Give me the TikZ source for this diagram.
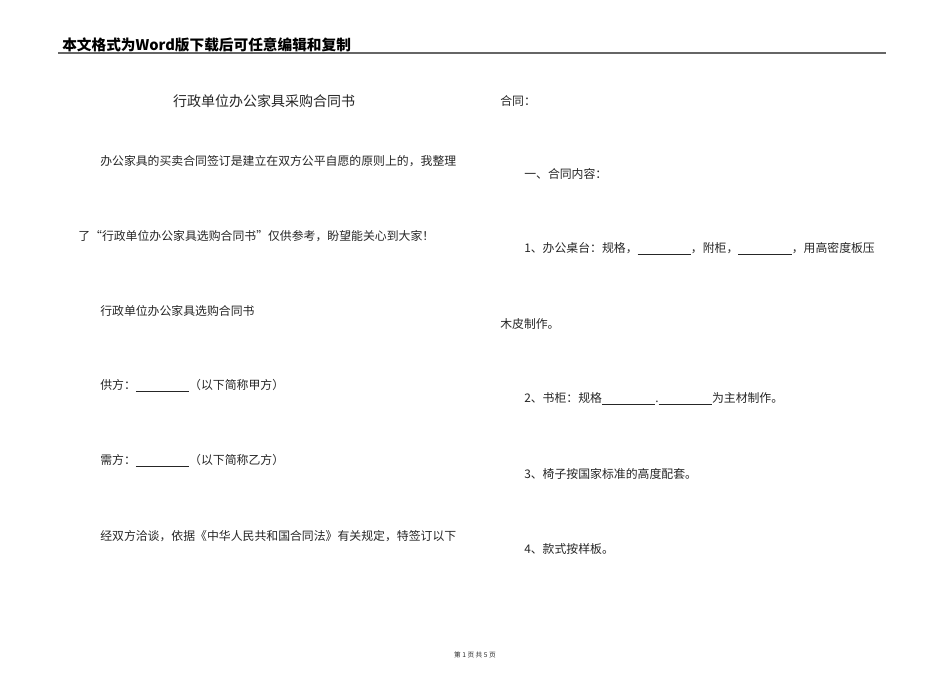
\documentclass[tikz,border=0pt]{standalone}
\usepackage{fontspec}
\newfontfamily\cjk{Noto Sans CJK SC}
\newcommand{\blank}[1]{\underline{\hspace{#1}}}
\begin{document}
\begin{tikzpicture}[x=0.75pt,y=-0.75pt,
  body/.style={anchor=west,inner sep=0,font=\cjk\fontsize{8.9pt}{10pt}\selectfont,text=black!85}]
\useasboundingbox (0,0) rectangle (950,672);
\fill[white] (0,0) rectangle (950,672);
\node[anchor=west,inner sep=0,font=\cjk\bfseries\fontsize{11pt}{12pt}\selectfont] (hdr) at (62,45) {本文格式为Word版下载后可任意编辑和复制};
\coordinate (l1) at (58,53); \coordinate (l2) at (886,53);
\draw[line width=1pt,black!60] (l1) -- (l2);
\node[body,anchor=center,font=\cjk\fontsize{10.5pt}{12pt}\selectfont] (t) at (264,101) {行政单位办公家具采购合同书};
\node[body] (p1) at (100,161) {办公家具的买卖合同签订是建立在双方公平自愿的原则上的，我整理};
\node[body] (p2) at (78,236) {了“行政单位办公家具选购合同书”仅供参考，盼望能关心到大家！};
\node[body] (p3) at (100,311) {行政单位办公家具选购合同书};
\node[body] (p4) at (100,386) {供方：\blank{40pt}（以下简称甲方）};
\node[body] (p5) at (100,461) {需方：\blank{40pt}（以下简称乙方）};
\node[body] (p6) at (100,536) {经双方洽谈，依据《中华人民共和国合同法》有关规定，特签订以下};
\node[body] (r1) at (500,101) {合同：};
\node[body] (r2) at (524,174) {一、合同内容：};
\node[body] (r3) at (524,249) {1、办公桌台：规格，\blank{40pt}，附柜，\blank{40pt}，用高密度板压};
\node[body] (r4) at (500,324) {木皮制作。};
\node[body] (r5) at (524,399) {2、书柜：规格\blank{40pt}.\blank{40pt}为主材制作。};
\node[body] (r6) at (524,474) {3、椅子按国家标准的高度配套。};
\node[body] (r7) at (524,549) {4、款式按样板。};
\node[body,anchor=center,font=\cjk\fontsize{5pt}{6pt}\selectfont] (ft) at (475,655) {第 1 页 共 5 页};
\end{tikzpicture}
\end{document}
